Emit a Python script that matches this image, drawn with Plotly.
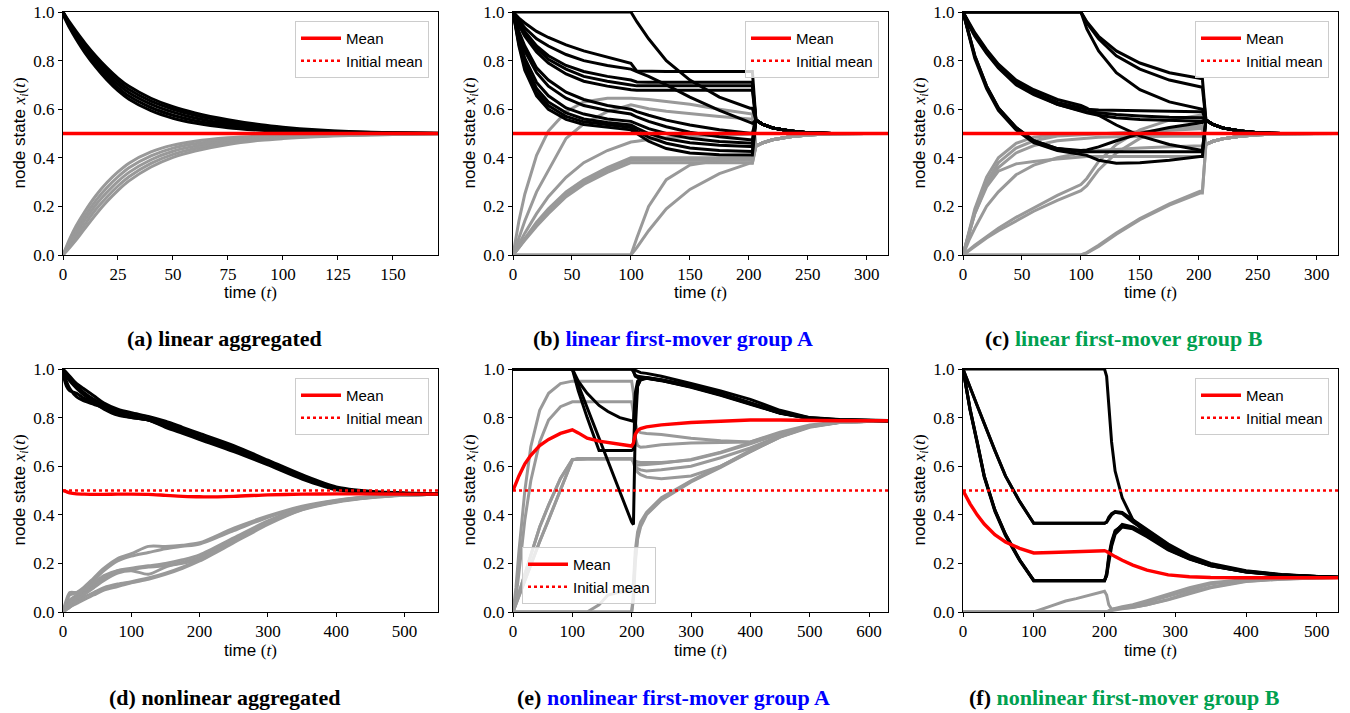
import plotly.graph_objects as go

# ------------------------------------------------------------------ data
INITIAL_MEAN = 0.5

# (a) linear aggregated
T_A = [0, 3, 6, 10, 15, 20, 25, 30, 40, 50, 60, 75, 90, 100, 115, 130, 150, 170.5]
A_BLACK = [
    [1.0, 0.958, 0.92, 0.872, 0.818, 0.77, 0.728, 0.694, 0.645, 0.61, 0.585, 0.557, 0.536, 0.526, 0.515, 0.508, 0.503, 0.501],
    [1.0, 0.952, 0.912, 0.862, 0.806, 0.757, 0.715, 0.681, 0.633, 0.60, 0.575, 0.548, 0.529, 0.52, 0.511, 0.506, 0.502, 0.501],
    [1.0, 0.946, 0.904, 0.852, 0.795, 0.745, 0.702, 0.668, 0.621, 0.588, 0.564, 0.539, 0.523, 0.515, 0.508, 0.504, 0.502, 0.50],
    [1.0, 0.94, 0.896, 0.842, 0.783, 0.732, 0.689, 0.654, 0.607, 0.575, 0.553, 0.531, 0.518, 0.511, 0.506, 0.503, 0.501, 0.50],
    [0.99, 0.935, 0.888, 0.832, 0.772, 0.72, 0.676, 0.641, 0.594, 0.563, 0.543, 0.524, 0.513, 0.508, 0.504, 0.502, 0.501, 0.50],
]
A_GRAY = [
    [0.0, 0.065, 0.12, 0.18, 0.245, 0.298, 0.342, 0.378, 0.424, 0.452, 0.468, 0.482, 0.49, 0.493, 0.496, 0.498, 0.499, 0.50],
    [0.0, 0.055, 0.104, 0.162, 0.225, 0.278, 0.322, 0.359, 0.408, 0.44, 0.458, 0.474, 0.484, 0.488, 0.492, 0.495, 0.497, 0.499],
    [0.0, 0.045, 0.089, 0.145, 0.207, 0.258, 0.303, 0.34, 0.392, 0.427, 0.448, 0.467, 0.479, 0.485, 0.49, 0.494, 0.497, 0.499],
    [0.0, 0.037, 0.075, 0.127, 0.188, 0.239, 0.284, 0.322, 0.377, 0.414, 0.438, 0.461, 0.476, 0.482, 0.489, 0.493, 0.496, 0.499],
    [0.0, 0.03, 0.062, 0.11, 0.168, 0.22, 0.266, 0.305, 0.362, 0.402, 0.428, 0.455, 0.472, 0.479, 0.487, 0.492, 0.496, 0.499],
]
A_MEAN = [0.5, 0.5, 0.5, 0.5, 0.5, 0.5, 0.5, 0.5, 0.5, 0.5, 0.5, 0.5, 0.5, 0.5, 0.5, 0.5, 0.5, 0.5]

# (b) linear first-mover group A
T_B = [0, 5, 10, 20, 30, 45, 60, 80, 100, 105, 115, 130, 150, 175, 201, 203, 206, 212, 220, 235, 250, 270, 300, 318]
B_BLACK = [
    [1.0, 0.975, 0.955, 0.92, 0.895, 0.865, 0.84, 0.815, 0.789, 0.757, 0.755, 0.755, 0.755, 0.755, 0.755, 0.755, 0.555, 0.537, 0.523, 0.51, 0.503, 0.5, 0.5, 0.5],
    [1.0, 0.965, 0.935, 0.89, 0.86, 0.825, 0.8, 0.78, 0.765, 0.755, 0.735, 0.70, 0.65, 0.595, 0.545, 0.542, 0.555, 0.537, 0.523, 0.51, 0.503, 0.5, 0.5, 0.5],
    [1.0, 0.955, 0.92, 0.86, 0.82, 0.78, 0.755, 0.735, 0.72, 0.712, 0.711, 0.711, 0.711, 0.711, 0.711, 0.711, 0.555, 0.537, 0.523, 0.51, 0.503, 0.5, 0.5, 0.5],
    [1.0, 0.95, 0.91, 0.85, 0.805, 0.765, 0.735, 0.715, 0.70, 0.696, 0.696, 0.696, 0.696, 0.696, 0.696, 0.696, 0.555, 0.537, 0.523, 0.51, 0.503, 0.5, 0.5, 0.5],
    [1.0, 0.945, 0.90, 0.835, 0.79, 0.745, 0.715, 0.695, 0.68, 0.678, 0.678, 0.678, 0.678, 0.678, 0.678, 0.678, 0.555, 0.537, 0.523, 0.51, 0.503, 0.5, 0.5, 0.5],
    [1.0, 0.92, 0.86, 0.77, 0.72, 0.67, 0.64, 0.615, 0.60, 0.59, 0.575, 0.555, 0.535, 0.515, 0.501, 0.501, 0.555, 0.537, 0.523, 0.51, 0.503, 0.5, 0.5, 0.5],
    [1.0, 0.91, 0.84, 0.75, 0.695, 0.645, 0.615, 0.595, 0.58, 0.568, 0.55, 0.528, 0.505, 0.487, 0.474, 0.474, 0.555, 0.537, 0.523, 0.51, 0.503, 0.5, 0.5, 0.5],
    [1.0, 0.89, 0.81, 0.71, 0.655, 0.605, 0.58, 0.56, 0.55, 0.54, 0.52, 0.50, 0.48, 0.467, 0.46, 0.46, 0.555, 0.537, 0.523, 0.51, 0.503, 0.5, 0.5, 0.5],
    [1.0, 0.88, 0.79, 0.685, 0.63, 0.585, 0.56, 0.545, 0.535, 0.522, 0.50, 0.478, 0.462, 0.452, 0.447, 0.447, 0.555, 0.537, 0.523, 0.51, 0.503, 0.5, 0.5, 0.5],
    [1.0, 0.87, 0.775, 0.67, 0.615, 0.57, 0.548, 0.535, 0.525, 0.51, 0.485, 0.46, 0.44, 0.43, 0.426, 0.426, 0.555, 0.537, 0.523, 0.51, 0.503, 0.5, 0.5, 0.5],
    [1.0, 0.86, 0.76, 0.655, 0.60, 0.558, 0.537, 0.525, 0.515, 0.50, 0.468, 0.438, 0.42, 0.413, 0.412, 0.412, 0.555, 0.537, 0.523, 0.51, 0.503, 0.5, 0.5, 0.5],
    [1.0, 1.0, 1.0, 1.0, 1.0, 1.0, 1.0, 1.0, 1.0, 0.96, 0.89, 0.80, 0.72, 0.65, 0.604, 0.604, 0.555, 0.537, 0.523, 0.51, 0.503, 0.5, 0.5, 0.5],
]
B_GRAY = [
    [0.0, 0.14, 0.25, 0.41, 0.51, 0.59, 0.63, 0.645, 0.645, 0.644, 0.64, 0.632, 0.62, 0.60, 0.58, 0.58, 0.448, 0.462, 0.474, 0.487, 0.494, 0.499, 0.5, 0.5],
    [0.0, 0.07, 0.14, 0.26, 0.35, 0.48, 0.54, 0.59, 0.618, 0.612, 0.602, 0.592, 0.582, 0.57, 0.56, 0.56, 0.448, 0.462, 0.474, 0.487, 0.494, 0.499, 0.5, 0.5],
    [0.0, 0.045, 0.09, 0.17, 0.24, 0.32, 0.38, 0.43, 0.465, 0.468, 0.475, 0.482, 0.488, 0.493, 0.497, 0.497, 0.448, 0.462, 0.474, 0.487, 0.494, 0.499, 0.5, 0.5],
    [0.0, 0.035, 0.07, 0.135, 0.19, 0.26, 0.31, 0.36, 0.40, 0.40, 0.40, 0.40, 0.40, 0.40, 0.40, 0.40, 0.448, 0.462, 0.474, 0.487, 0.494, 0.499, 0.5, 0.5],
    [0.0, 0.03, 0.065, 0.125, 0.18, 0.25, 0.30, 0.35, 0.39, 0.39, 0.39, 0.39, 0.39, 0.39, 0.39, 0.39, 0.448, 0.462, 0.474, 0.487, 0.494, 0.499, 0.5, 0.5],
    [0.0, 0.028, 0.06, 0.118, 0.17, 0.24, 0.29, 0.34, 0.38, 0.38, 0.38, 0.38, 0.38, 0.38, 0.38, 0.38, 0.448, 0.462, 0.474, 0.487, 0.494, 0.499, 0.5, 0.5],
    [0.0, 0.0, 0.0, 0.0, 0.0, 0.0, 0.0, 0.0, 0.0, 0.07, 0.20, 0.31, 0.37, 0.39, 0.395, 0.395, 0.448, 0.462, 0.474, 0.487, 0.494, 0.499, 0.5, 0.5],
    [0.0, 0.0, 0.0, 0.0, 0.0, 0.0, 0.0, 0.0, 0.0, 0.03, 0.10, 0.19, 0.27, 0.335, 0.378, 0.378, 0.448, 0.462, 0.474, 0.487, 0.494, 0.499, 0.5, 0.5],
]
B_MEAN = [0.5, 0.5, 0.5, 0.5, 0.5, 0.5, 0.5, 0.5, 0.5, 0.5, 0.5, 0.5, 0.5, 0.5, 0.5, 0.5, 0.5, 0.5, 0.5, 0.5, 0.5, 0.5, 0.5, 0.5]

# (c) linear first-mover group B
T_C = [0, 5, 10, 20, 30, 45, 60, 80, 100, 105, 115, 130, 150, 175, 201, 203, 206, 212, 220, 235, 250, 270, 300, 318]
C_BLACK = [
    [1.0, 1.0, 1.0, 1.0, 1.0, 1.0, 1.0, 1.0, 1.0, 0.96, 0.90, 0.84, 0.79, 0.75, 0.725, 0.725, 0.555, 0.537, 0.523, 0.51, 0.503, 0.5, 0.5, 0.5],
    [1.0, 1.0, 1.0, 1.0, 1.0, 1.0, 1.0, 1.0, 1.0, 0.955, 0.89, 0.82, 0.765, 0.72, 0.69, 0.69, 0.555, 0.537, 0.523, 0.51, 0.503, 0.5, 0.5, 0.5],
    [1.0, 1.0, 1.0, 1.0, 1.0, 1.0, 1.0, 1.0, 1.0, 0.93, 0.84, 0.75, 0.68, 0.63, 0.60, 0.60, 0.555, 0.537, 0.523, 0.51, 0.503, 0.5, 0.5, 0.5],
    [1.0, 0.95, 0.91, 0.84, 0.78, 0.71, 0.67, 0.628, 0.605, 0.60, 0.597, 0.595, 0.593, 0.592, 0.59, 0.59, 0.555, 0.537, 0.523, 0.51, 0.503, 0.5, 0.5, 0.5],
    [1.0, 0.945, 0.90, 0.83, 0.77, 0.70, 0.66, 0.62, 0.595, 0.59, 0.585, 0.578, 0.572, 0.567, 0.565, 0.565, 0.555, 0.537, 0.523, 0.51, 0.503, 0.5, 0.5, 0.5],
    [1.0, 0.955, 0.915, 0.845, 0.785, 0.72, 0.68, 0.64, 0.615, 0.605, 0.575, 0.535, 0.49, 0.455, 0.43, 0.43, 0.555, 0.537, 0.523, 0.51, 0.503, 0.5, 0.5, 0.5],
    [1.0, 0.95, 0.905, 0.835, 0.775, 0.705, 0.665, 0.62, 0.59, 0.585, 0.575, 0.565, 0.558, 0.553, 0.55, 0.55, 0.555, 0.537, 0.523, 0.51, 0.503, 0.5, 0.5, 0.5],
    [1.0, 0.905, 0.82, 0.695, 0.605, 0.525, 0.47, 0.438, 0.43, 0.432, 0.445, 0.47, 0.50, 0.525, 0.545, 0.545, 0.555, 0.537, 0.523, 0.51, 0.503, 0.5, 0.5, 0.5],
    [1.0, 0.90, 0.81, 0.685, 0.595, 0.515, 0.462, 0.43, 0.415, 0.41, 0.39, 0.378, 0.38, 0.39, 0.405, 0.405, 0.555, 0.537, 0.523, 0.51, 0.503, 0.5, 0.5, 0.5],
    [1.0, 0.905, 0.82, 0.695, 0.605, 0.525, 0.47, 0.438, 0.425, 0.425, 0.425, 0.425, 0.425, 0.425, 0.425, 0.425, 0.555, 0.537, 0.523, 0.51, 0.503, 0.5, 0.5, 0.5],
]
C_GRAY = [
    [0.0, 0.10, 0.19, 0.32, 0.40, 0.46, 0.485, 0.495, 0.50, 0.50, 0.50, 0.50, 0.50, 0.50, 0.50, 0.50, 0.455, 0.468, 0.478, 0.489, 0.495, 0.499, 0.5, 0.5],
    [0.0, 0.09, 0.17, 0.29, 0.36, 0.42, 0.45, 0.47, 0.48, 0.482, 0.485, 0.487, 0.488, 0.489, 0.49, 0.49, 0.455, 0.468, 0.478, 0.489, 0.495, 0.499, 0.5, 0.5],
    [0.0, 0.09, 0.17, 0.28, 0.345, 0.375, 0.385, 0.395, 0.405, 0.405, 0.405, 0.405, 0.405, 0.405, 0.405, 0.405, 0.455, 0.468, 0.478, 0.489, 0.495, 0.499, 0.5, 0.5],
    [0.0, 0.06, 0.11, 0.20, 0.26, 0.33, 0.37, 0.40, 0.42, 0.425, 0.43, 0.435, 0.44, 0.445, 0.45, 0.45, 0.455, 0.468, 0.478, 0.489, 0.495, 0.499, 0.5, 0.5],
    [0.0, 0.02, 0.04, 0.075, 0.11, 0.155, 0.195, 0.245, 0.29, 0.315, 0.385, 0.455, 0.515, 0.555, 0.575, 0.575, 0.455, 0.468, 0.478, 0.489, 0.495, 0.499, 0.5, 0.5],
    [0.0, 0.018, 0.036, 0.07, 0.10, 0.14, 0.18, 0.225, 0.265, 0.285, 0.35, 0.42, 0.48, 0.52, 0.53, 0.53, 0.455, 0.468, 0.478, 0.489, 0.495, 0.499, 0.5, 0.5],
    [0.0, 0.0, 0.0, 0.0, 0.0, 0.0, 0.0, 0.0, 0.0, 0.01, 0.04, 0.09, 0.15, 0.21, 0.262, 0.262, 0.455, 0.468, 0.478, 0.489, 0.495, 0.499, 0.5, 0.5],
    [0.0, 0.0, 0.0, 0.0, 0.0, 0.0, 0.0, 0.0, 0.0, 0.008, 0.035, 0.085, 0.145, 0.205, 0.255, 0.255, 0.455, 0.468, 0.478, 0.489, 0.495, 0.499, 0.5, 0.5],
    [0.0, 0.095, 0.18, 0.30, 0.38, 0.44, 0.47, 0.49, 0.495, 0.497, 0.50, 0.505, 0.51, 0.515, 0.52, 0.52, 0.455, 0.468, 0.478, 0.489, 0.495, 0.499, 0.5, 0.5],
]
C_MEAN = [0.5, 0.5, 0.5, 0.5, 0.5, 0.5, 0.5, 0.5, 0.5, 0.5, 0.5, 0.5, 0.5, 0.5, 0.5, 0.5, 0.5, 0.5, 0.5, 0.5, 0.5, 0.5, 0.5, 0.5]

# (d) nonlinear aggregated
T_D = [0, 5, 10, 20, 30, 45, 60, 80, 100, 125, 150, 175, 200, 250, 300, 350, 400, 450, 500, 549]
D_BLACK = [
    [1.0, 0.985, 0.97, 0.94, 0.92, 0.89, 0.86, 0.835, 0.82, 0.805, 0.785, 0.76, 0.735, 0.685, 0.625, 0.565, 0.515, 0.497, 0.49, 0.488],
    [1.0, 0.975, 0.96, 0.93, 0.905, 0.875, 0.85, 0.825, 0.81, 0.795, 0.775, 0.75, 0.725, 0.675, 0.617, 0.558, 0.51, 0.494, 0.489, 0.487],
    [1.0, 0.95, 0.92, 0.885, 0.87, 0.855, 0.84, 0.815, 0.80, 0.79, 0.765, 0.74, 0.715, 0.665, 0.61, 0.552, 0.506, 0.492, 0.488, 0.487],
    [0.98, 0.93, 0.91, 0.90, 0.88, 0.86, 0.835, 0.81, 0.80, 0.79, 0.76, 0.735, 0.71, 0.66, 0.605, 0.547, 0.503, 0.491, 0.488, 0.487],
    [1.0, 0.97, 0.95, 0.92, 0.895, 0.865, 0.845, 0.82, 0.805, 0.79, 0.77, 0.745, 0.72, 0.67, 0.612, 0.555, 0.508, 0.493, 0.488, 0.487],
]
D_GRAY = [
    [0.0, 0.04, 0.07, 0.08, 0.10, 0.14, 0.18, 0.22, 0.24, 0.27, 0.27, 0.275, 0.285, 0.345, 0.395, 0.435, 0.46, 0.475, 0.483, 0.485],
    [0.0, 0.03, 0.05, 0.07, 0.09, 0.13, 0.17, 0.21, 0.23, 0.245, 0.26, 0.27, 0.28, 0.335, 0.39, 0.432, 0.458, 0.474, 0.482, 0.485],
    [0.0, 0.02, 0.04, 0.06, 0.08, 0.11, 0.14, 0.17, 0.18, 0.19, 0.20, 0.215, 0.235, 0.305, 0.375, 0.428, 0.456, 0.473, 0.481, 0.485],
    [0.0, 0.015, 0.03, 0.05, 0.07, 0.10, 0.13, 0.16, 0.17, 0.155, 0.185, 0.205, 0.225, 0.30, 0.37, 0.425, 0.455, 0.472, 0.481, 0.485],
    [0.0, 0.01, 0.02, 0.04, 0.06, 0.08, 0.10, 0.115, 0.125, 0.14, 0.16, 0.185, 0.215, 0.29, 0.365, 0.422, 0.454, 0.471, 0.48, 0.485],
    [0.0, 0.01, 0.02, 0.035, 0.05, 0.07, 0.09, 0.105, 0.12, 0.135, 0.155, 0.18, 0.21, 0.285, 0.36, 0.42, 0.452, 0.47, 0.48, 0.485],
    [0.0, 0.05, 0.08, 0.08, 0.09, 0.12, 0.15, 0.17, 0.175, 0.185, 0.19, 0.20, 0.22, 0.295, 0.37, 0.425, 0.455, 0.472, 0.481, 0.485],
]
D_MEAN = [0.5, 0.495, 0.49, 0.486, 0.485, 0.484, 0.484, 0.485, 0.485, 0.484, 0.48, 0.476, 0.474, 0.476, 0.482, 0.485, 0.486, 0.486, 0.485, 0.485]

# (e) nonlinear first-mover group A
T_E = [0, 5, 10, 20, 30, 45, 60, 80, 100, 110, 125, 145, 160, 180, 200, 203, 206, 210, 215, 225, 250, 300, 350, 400, 450, 500, 550, 632]
E_BLACK = [
    [1.0, 1.0, 1.0, 1.0, 1.0, 1.0, 1.0, 1.0, 1.0, 1.0, 1.0, 1.0, 1.0, 1.0, 1.0, 1.0, 0.995, 0.99, 0.985, 0.982, 0.97, 0.94, 0.91, 0.875, 0.83, 0.80, 0.792, 0.788],
    [1.0, 1.0, 1.0, 1.0, 1.0, 1.0, 1.0, 1.0, 1.0, 1.0, 1.0, 1.0, 1.0, 1.0, 1.0, 0.99, 0.975, 0.97, 0.968, 0.965, 0.955, 0.928, 0.895, 0.858, 0.82, 0.797, 0.79, 0.787],
    [1.0, 1.0, 1.0, 1.0, 1.0, 1.0, 1.0, 1.0, 1.0, 0.935, 0.84, 0.71, 0.615, 0.49, 0.37, 0.36, 0.75, 0.93, 0.955, 0.962, 0.952, 0.925, 0.892, 0.855, 0.818, 0.796, 0.789, 0.787],
    [1.0, 1.0, 1.0, 1.0, 1.0, 1.0, 1.0, 1.0, 1.0, 0.95, 0.90, 0.85, 0.825, 0.80, 0.785, 0.785, 0.90, 0.95, 0.962, 0.965, 0.956, 0.93, 0.897, 0.86, 0.82, 0.797, 0.79, 0.787],
    [1.0, 1.0, 1.0, 1.0, 1.0, 1.0, 1.0, 1.0, 1.0, 0.91, 0.80, 0.665, 0.665, 0.665, 0.665, 0.67, 0.85, 0.93, 0.958, 0.963, 0.953, 0.927, 0.894, 0.857, 0.819, 0.796, 0.789, 0.787],
    [1.0, 1.0, 1.0, 1.0, 1.0, 1.0, 1.0, 1.0, 1.0, 1.0, 1.0, 1.0, 1.0, 1.0, 1.0, 0.99, 0.97, 0.965, 0.963, 0.962, 0.954, 0.933, 0.9, 0.863, 0.823, 0.799, 0.791, 0.787],
]
E_GRAY = [
    [0.0, 0.10, 0.25, 0.50, 0.68, 0.83, 0.90, 0.94, 0.95, 0.95, 0.95, 0.95, 0.95, 0.95, 0.95, 0.90, 0.78, 0.745, 0.738, 0.735, 0.73, 0.715, 0.705, 0.70, 0.74, 0.77, 0.783, 0.787],
    [0.0, 0.06, 0.16, 0.38, 0.54, 0.70, 0.79, 0.845, 0.865, 0.865, 0.865, 0.865, 0.865, 0.865, 0.865, 0.82, 0.72, 0.685, 0.678, 0.68, 0.688, 0.695, 0.698, 0.70, 0.735, 0.765, 0.781, 0.787],
    [0.0, 0.03, 0.065, 0.13, 0.195, 0.29, 0.38, 0.50, 0.625, 0.632, 0.632, 0.632, 0.632, 0.632, 0.632, 0.62, 0.61, 0.605, 0.605, 0.607, 0.612, 0.628, 0.658, 0.695, 0.735, 0.765, 0.781, 0.787],
    [0.0, 0.03, 0.065, 0.13, 0.195, 0.29, 0.38, 0.50, 0.625, 0.632, 0.632, 0.632, 0.632, 0.632, 0.632, 0.615, 0.59, 0.575, 0.565, 0.555, 0.548, 0.56, 0.60, 0.66, 0.72, 0.76, 0.78, 0.787],
    [0.0, 0.04, 0.08, 0.16, 0.24, 0.35, 0.44, 0.55, 0.628, 0.63, 0.63, 0.63, 0.63, 0.63, 0.63, 0.62, 0.60, 0.59, 0.585, 0.58, 0.585, 0.60, 0.635, 0.675, 0.725, 0.762, 0.78, 0.787],
    [0.0, 0.04, 0.08, 0.16, 0.24, 0.35, 0.44, 0.55, 0.628, 0.63, 0.63, 0.63, 0.63, 0.63, 0.63, 0.625, 0.62, 0.617, 0.615, 0.615, 0.615, 0.625, 0.655, 0.692, 0.733, 0.764, 0.781, 0.787],
    [0.0, 0.0, 0.0, 0.0, 0.0, 0.0, 0.0, 0.0, 0.0, 0.0, 0.0, 0.03, 0.07, 0.082, 0.085, 0.12, 0.25, 0.33, 0.37, 0.41, 0.47, 0.54, 0.60, 0.665, 0.725, 0.765, 0.782, 0.787],
    [0.0, 0.0, 0.0, 0.0, 0.0, 0.0, 0.0, 0.0, 0.0, 0.0, 0.0, 0.0, 0.0, 0.0, 0.0, 0.05, 0.20, 0.30, 0.35, 0.40, 0.46, 0.535, 0.595, 0.66, 0.72, 0.763, 0.781, 0.787],
    [0.0, 0.0, 0.0, 0.0, 0.0, 0.0, 0.0, 0.0, 0.0, 0.0, 0.0, 0.0, 0.0, 0.0, 0.0, 0.08, 0.22, 0.31, 0.36, 0.405, 0.465, 0.538, 0.598, 0.662, 0.722, 0.764, 0.781, 0.787],
]
E_MEAN = [0.5, 0.53, 0.56, 0.61, 0.645, 0.685, 0.71, 0.735, 0.75, 0.737, 0.715, 0.703, 0.697, 0.69, 0.683, 0.695, 0.73, 0.747, 0.755, 0.762, 0.77, 0.78, 0.786, 0.79, 0.79, 0.788, 0.787, 0.787]

# (f) nonlinear first-mover group B
T_F = [0, 5, 10, 20, 30, 45, 60, 80, 100, 125, 145, 160, 180, 200, 203, 206, 210, 215, 225, 240, 260, 290, 320, 350, 400, 450, 500, 530]
F_BLACK = [
    [1.0, 1.0, 1.0, 1.0, 1.0, 1.0, 1.0, 1.0, 1.0, 1.0, 1.0, 1.0, 1.0, 1.0, 0.97, 0.85, 0.70, 0.58, 0.47, 0.38, 0.32, 0.26, 0.22, 0.192, 0.165, 0.152, 0.145, 0.143],
    [1.0, 0.96, 0.925, 0.85, 0.775, 0.665, 0.56, 0.455, 0.365, 0.365, 0.365, 0.365, 0.365, 0.365, 0.37, 0.385, 0.40, 0.41, 0.405, 0.37, 0.33, 0.27, 0.225, 0.196, 0.168, 0.153, 0.146, 0.143],
    [1.0, 0.915, 0.835, 0.70, 0.56, 0.42, 0.32, 0.215, 0.13, 0.13, 0.13, 0.13, 0.13, 0.13, 0.15, 0.22, 0.28, 0.33, 0.36, 0.35, 0.32, 0.262, 0.222, 0.193, 0.167, 0.152, 0.145, 0.143],
    [1.0, 0.91, 0.83, 0.695, 0.555, 0.415, 0.315, 0.212, 0.128, 0.128, 0.128, 0.128, 0.128, 0.128, 0.16, 0.23, 0.29, 0.335, 0.355, 0.345, 0.315, 0.258, 0.22, 0.19, 0.166, 0.152, 0.145, 0.143],
    [1.0, 0.915, 0.835, 0.70, 0.56, 0.42, 0.32, 0.215, 0.13, 0.13, 0.13, 0.13, 0.13, 0.13, 0.15, 0.21, 0.27, 0.32, 0.35, 0.342, 0.31, 0.255, 0.218, 0.19, 0.165, 0.151, 0.145, 0.143],
    [1.0, 0.96, 0.925, 0.85, 0.775, 0.665, 0.56, 0.455, 0.365, 0.365, 0.365, 0.365, 0.365, 0.365, 0.37, 0.39, 0.405, 0.413, 0.41, 0.38, 0.34, 0.28, 0.232, 0.20, 0.17, 0.154, 0.146, 0.143],
]
F_GRAY = [
    [0.0, 0.0, 0.0, 0.0, 0.0, 0.0, 0.0, 0.0, 0.0, 0.025, 0.045, 0.055, 0.07, 0.085, 0.07, 0.03, 0.012, 0.012, 0.015, 0.02, 0.03, 0.05, 0.075, 0.10, 0.125, 0.135, 0.14, 0.142],
    [0.0, 0.0, 0.0, 0.0, 0.0, 0.0, 0.0, 0.0, 0.0, 0.0, 0.0, 0.0, 0.0, 0.0, 0.0, 0.003, 0.006, 0.009, 0.013, 0.018, 0.03, 0.052, 0.08, 0.103, 0.127, 0.136, 0.14, 0.142],
    [0.0, 0.0, 0.0, 0.0, 0.0, 0.0, 0.0, 0.0, 0.0, 0.0, 0.0, 0.0, 0.0, 0.0, 0.0, 0.004, 0.008, 0.012, 0.018, 0.025, 0.04, 0.065, 0.093, 0.115, 0.132, 0.138, 0.141, 0.142],
    [0.0, 0.0, 0.0, 0.0, 0.0, 0.0, 0.0, 0.0, 0.0, 0.0, 0.0, 0.0, 0.0, 0.0, 0.0, 0.005, 0.01, 0.015, 0.022, 0.03, 0.047, 0.072, 0.10, 0.12, 0.134, 0.139, 0.141, 0.142],
]
F_MEAN = [0.5, 0.47, 0.445, 0.40, 0.362, 0.318, 0.288, 0.262, 0.243, 0.245, 0.247, 0.248, 0.25, 0.252, 0.249, 0.243, 0.236, 0.228, 0.213, 0.193, 0.172, 0.153, 0.145, 0.142, 0.141, 0.141, 0.141, 0.141]

Y_TICKS = [0.0, 0.2, 0.4, 0.6, 0.8, 1.0]
CAPTIONS = [
    ("(a)", "linear aggregated", None),
    ("(b)", "linear first-mover group A", "#0000ff"),
    ("(c)", "linear first-mover group B", "#00a050"),
    ("(d)", "nonlinear aggregated", None),
    ("(e)", "nonlinear first-mover group A", "#0000ff"),
    ("(f)", "nonlinear first-mover group B", "#00a050"),
]

# ------------------------------------------------------------------ style / layout
W, H = 1350, 713
SANS = "Liberation Sans"
SERIF = "Liberation Serif"
BLACK = "#000000"
GRAY = "#999999"
RED = "#ff0000"

PANELS = [
    dict(T=T_A, black=A_BLACK, gray=A_GRAY, mean=A_MEAN, xmax=170.5, dtick=25, shape="spline"),
    dict(T=T_B, black=B_BLACK, gray=B_GRAY, mean=B_MEAN, xmax=318, dtick=50, shape="linear"),
    dict(T=T_C, black=C_BLACK, gray=C_GRAY, mean=C_MEAN, xmax=318, dtick=50, shape="linear"),
    dict(T=T_D, black=D_BLACK, gray=D_GRAY, mean=D_MEAN, xmax=549, dtick=100, shape="spline"),
    dict(T=T_E, black=E_BLACK, gray=E_GRAY, mean=E_MEAN, xmax=632, dtick=100, shape="linear"),
    dict(T=T_F, black=F_BLACK, gray=F_GRAY, mean=F_MEAN, xmax=530, dtick=100, shape="linear"),
]
COL_PX = [(63, 438), (513, 888), (963, 1338)]
ROW_PX = [(12, 255), (369, 612)]
CAPTION_X = [224, 673, 1124]
CAPTION_Y = [338, 697]
XTITLE_Y = [292, 650]
YTITLE_X = [20, 470, 920]
LEGEND_POS = [
    dict(x=429, y=21, xanchor="right", yanchor="top"),
    dict(x=879, y=21, xanchor="right", yanchor="top"),
    dict(x=1329, y=21, xanchor="right", yanchor="top"),
    dict(x=429, y=378, xanchor="right", yanchor="top"),
    dict(x=522, y=604, xanchor="left", yanchor="bottom"),
    dict(x=1329, y=378, xanchor="right", yanchor="top"),
]
LW = 3.0

fig = go.Figure()
layout = dict(
    width=W, height=H, margin=dict(l=0, r=0, t=0, b=0, autoexpand=False),
    paper_bgcolor="white", plot_bgcolor="white", showlegend=True, autosize=False,
    annotations=[],
)

for i, p in enumerate(PANELS, start=1):
    r, c = divmod(i - 1, 3)
    xa = "x" if i == 1 else f"x{i}"
    ya = "y" if i == 1 else f"y{i}"
    lg = "legend" if i == 1 else f"legend{i}"
    ls = dict(shape=p["shape"], smoothing=0.8) if p["shape"] == "spline" else dict(shape="linear")
    for ys in p["gray"]:
        fig.add_trace(go.Scatter(x=p["T"], y=ys, mode="lines", line=dict(color=GRAY, width=LW, **ls),
                                 xaxis=xa, yaxis=ya, showlegend=False, hoverinfo="skip"))
    for ys in p["black"]:
        fig.add_trace(go.Scatter(x=p["T"], y=ys, mode="lines", line=dict(color=BLACK, width=LW, **ls),
                                 xaxis=xa, yaxis=ya, showlegend=False, hoverinfo="skip"))
    fig.add_trace(go.Scatter(x=[0, p["xmax"]], y=[INITIAL_MEAN, INITIAL_MEAN], mode="lines",
                             line=dict(color=RED, width=2.4, dash="3px,3px"), name="Initial mean",
                             legend=lg, legendrank=2, xaxis=xa, yaxis=ya, hoverinfo="skip"))
    fig.add_trace(go.Scatter(x=p["T"], y=p["mean"], mode="lines", line=dict(color=RED, width=3.4, **ls),
                             name="Mean", legend=lg, legendrank=1, xaxis=xa, yaxis=ya, hoverinfo="skip"))

    x0, x1 = COL_PX[c]
    y0, y1 = ROW_PX[r]
    axcommon = dict(showline=True, mirror=True, linecolor="black", linewidth=1, ticks="outside",
                    ticklen=4, tickwidth=1, tickcolor="black", showgrid=False, zeroline=False,
                    automargin=False, tickfont=dict(family=SERIF, size=17, color="black"))
    layout["xaxis" if i == 1 else f"xaxis{i}"] = dict(
        domain=[x0 / W, x1 / W], anchor=ya, range=[0, p["xmax"]], tick0=0, dtick=p["dtick"], **axcommon)
    layout["yaxis" if i == 1 else f"yaxis{i}"] = dict(
        domain=[1 - y1 / H, 1 - y0 / H], anchor=xa, range=[0, 1], tickvals=Y_TICKS,
        tickformat=".1f", **axcommon)

    lp = LEGEND_POS[i - 1]
    layout[lg] = dict(x=lp["x"] / W, y=1 - lp["y"] / H, xanchor=lp["xanchor"], yanchor=lp["yanchor"],
                      xref="paper", yref="paper", itemwidth=40,
                      bgcolor="rgba(255,255,255,0.8)", bordercolor="#cccccc", borderwidth=1,
                      font=dict(family=SANS, size=15, color="black"), tracegroupgap=0)

    # axis titles
    layout["annotations"].append(dict(
        x=(x0 + x1) / 2 / W, y=1 - XTITLE_Y[r] / H, xref="paper", yref="paper", showarrow=False,
        xanchor="center", yanchor="middle",
        text='time <span style="font-family:Liberation Serif">(<i>t</i>)</span>',
        font=dict(family=SANS, size=17, color="black")))
    layout["annotations"].append(dict(
        x=YTITLE_X[c] / W, y=1 - (y0 + y1) / 2 / H, xref="paper", yref="paper", showarrow=False,
        xanchor="center", yanchor="middle", textangle=-90,
        text='node state <span style="font-family:Liberation Serif"><i>x<sub>i</sub></i>(<i>t</i>)</span>',
        font=dict(family=SANS, size=17, color="black")))
    # caption
    lab, txt, col = CAPTIONS[i - 1]
    body = txt if col is None else f'<span style="color:{col}">{txt}</span>'
    layout["annotations"].append(dict(
        x=CAPTION_X[c] / W, y=1 - CAPTION_Y[r] / H, xref="paper", yref="paper", showarrow=False,
        xanchor="center", yanchor="middle", text=f"<b>{lab} {body}</b>",
        font=dict(family=SERIF, size=22, color="black")))

fig.update_layout(**layout)
fig.write_html(
    "out.html",
    config={"responsive": False, "displayModeBar": False},
    post_script="document.body.style.margin='0';document.body.style.padding='0';"
                "document.body.style.overflow='hidden';",
)
